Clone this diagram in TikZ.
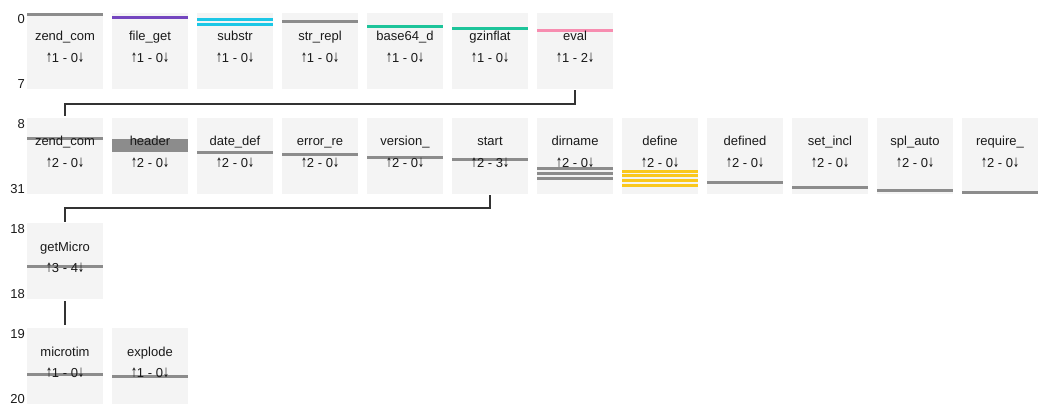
\documentclass[tikz,border=0pt]{standalone}
\usepackage{fontspec}
\setmainfont{Liberation Sans}
\newfontfamily\arrowfont{DejaVu Sans}
\definecolor{boxbg}{HTML}{F4F4F4}
\definecolor{lgray}{HTML}{8C8C8C}
\definecolor{txt}{HTML}{1A1A1A}
\definecolor{linkc}{HTML}{333333}
\definecolor{cpurple}{HTML}{7446BF}
\definecolor{ccyan}{HTML}{1CC7E6}
\definecolor{cgreen}{HTML}{1DC49A}
\definecolor{cpink}{HTML}{F78DB0}
\definecolor{cyellow}{HTML}{FAC81E}
\newcommand{\uparr}{\scalebox{0.55}[1]{\arrowfont ↑}}
\newcommand{\dnarr}{\scalebox{0.55}[1]{\arrowfont ↓}}
\newcommand{\mybox}[3]{\node[box] (#1) at (#2,#3) {};}
\newcommand{\barline}[3]{\draw[bar,#3] ([yshift=-#2pt]#1.north west) -- ([yshift=-#2pt]#1.north east);}
\newcommand{\boxtext}[4]{%
  \node[nm] (#1-n) at ([yshift=-25pt]#1.north) {#2};
  \node[nm] (#1-c) at ([yshift=-46.5pt]#1.north) {\uparr#3 - #4\dnarr};}
\newcommand{\rowidx}[3]{%
  \node[idx] (#1-t) at ([yshift=-6pt,xshift=-2pt]#1.north west) {#2};
  \node[idx] (#1-b) at ([yshift=-71pt,xshift=-2pt]#1.north west) {#3};}
\begin{document}
\begin{tikzpicture}[x=1pt,y=-1pt,
  box/.style={fill=boxbg, minimum width=76pt, minimum height=76pt, inner sep=0pt, outer sep=0pt, anchor=north west, draw=none},
  nm/.style={font=\fontsize{13}{15}\selectfont, text=txt, inner sep=0pt, text height=9.5pt, text depth=3.5pt},
  idx/.style={font=\fontsize{13}{15}\selectfont, text=txt, inner sep=0pt, anchor=east, text height=9.5pt, text depth=0pt},
  bar/.style={line width=3pt, draw=lgray},
  link/.style={draw=linkc, line width=1.3pt}]
\useasboundingbox (0,0) rectangle (1046,414);
% row 1
\mybox{r1a}{27}{13}\mybox{r1b}{112}{13}\mybox{r1c}{197}{13}\mybox{r1d}{282}{13}
\mybox{r1e}{367}{13}\mybox{r1f}{452}{13}\mybox{r1g}{537}{13}
% row 2
\mybox{r2a}{27}{118}\mybox{r2b}{112}{118}\mybox{r2c}{197}{118}\mybox{r2d}{282}{118}
\mybox{r2e}{367}{118}\mybox{r2f}{452}{118}\mybox{r2g}{537}{118}\mybox{r2h}{622}{118}
\mybox{r2i}{707}{118}\mybox{r2j}{792}{118}\mybox{r2k}{877}{118}\mybox{r2l}{962}{118}
% row 3, 4
\mybox{r3a}{27}{223}
\mybox{r4a}{27}{328}\mybox{r4b}{112}{328}
% bars row 1
\barline{r1a}{1.5}{}
\barline{r1b}{4.2}{draw=cpurple}
\barline{r1c}{6.3}{draw=ccyan,line width=2.7pt}
\barline{r1c}{11.2}{draw=ccyan,line width=2.7pt}
\barline{r1d}{9}{}
\barline{r1e}{13.3}{draw=cgreen}
\barline{r1f}{15.8}{draw=cgreen}
\barline{r1g}{17.8}{draw=cpink}
% bars row 2
\barline{r2a}{20.3}{}
\barline{r2b}{27.5}{line width=12.4pt}
\barline{r2c}{34.3}{}
\barline{r2d}{36.8}{}
\barline{r2e}{39.5}{}
\barline{r2f}{41.7}{}
\barline{r2g}{50.7}{line width=2.7pt}
\barline{r2g}{55.3}{line width=2.7pt}
\barline{r2g}{60.3}{line width=2.7pt}
\barline{r2h}{53.3}{draw=cyellow,line width=2.7pt}
\barline{r2h}{57.8}{draw=cyellow,line width=2.7pt}
\barline{r2h}{62.7}{draw=cyellow,line width=2.7pt}
\barline{r2h}{67.3}{draw=cyellow,line width=2.7pt}
\barline{r2i}{65}{}
\barline{r2j}{70}{}
\barline{r2k}{72.2}{}
\barline{r2l}{74.5}{}
% bars row 3, 4
\barline{r3a}{43.8}{}
\barline{r4a}{46.2}{}
\barline{r4b}{48.8}{}
% texts
\boxtext{r1a}{zend\_com}{1}{0}
\boxtext{r1b}{file\_get}{1}{0}
\boxtext{r1c}{substr}{1}{0}
\boxtext{r1d}{str\_repl}{1}{0}
\boxtext{r1e}{base64\_d}{1}{0}
\boxtext{r1f}{gzinflat}{1}{0}
\boxtext{r1g}{eval}{1}{2}
\boxtext{r2a}{zend\_com}{2}{0}
\boxtext{r2b}{header}{2}{0}
\boxtext{r2c}{date\_def}{2}{0}
\boxtext{r2d}{error\_re}{2}{0}
\boxtext{r2e}{version\_}{2}{0}
\boxtext{r2f}{start}{2}{3}
\boxtext{r2g}{dirname}{2}{0}
\boxtext{r2h}{define}{2}{0}
\boxtext{r2i}{defined}{2}{0}
\boxtext{r2j}{set\_incl}{2}{0}
\boxtext{r2k}{spl\_auto}{2}{0}
\boxtext{r2l}{require\_}{2}{0}
\boxtext{r3a}{getMicro}{3}{4}
\boxtext{r4a}{microtim}{1}{0}
\boxtext{r4b}{explode}{1}{0}
% row indices
\rowidx{r1a}{0}{7}
\rowidx{r2a}{8}{31}
\rowidx{r3a}{18}{18}
\rowidx{r4a}{19}{20}
% connectors
\coordinate (j1) at (575,104);
\coordinate (j2) at (490,208);
\draw[link, shorten <=1.5pt, shorten >=1.5pt] (r1g.south) -- (j1) -| (r2a.north);
\draw[link, shorten <=1.5pt, shorten >=1.5pt] (r2f.south) -- (j2) -| (r3a.north);
\draw[link, shorten <=2pt, shorten >=3pt] (r3a.south) -- (r4a.north);
\end{tikzpicture}
\end{document}
